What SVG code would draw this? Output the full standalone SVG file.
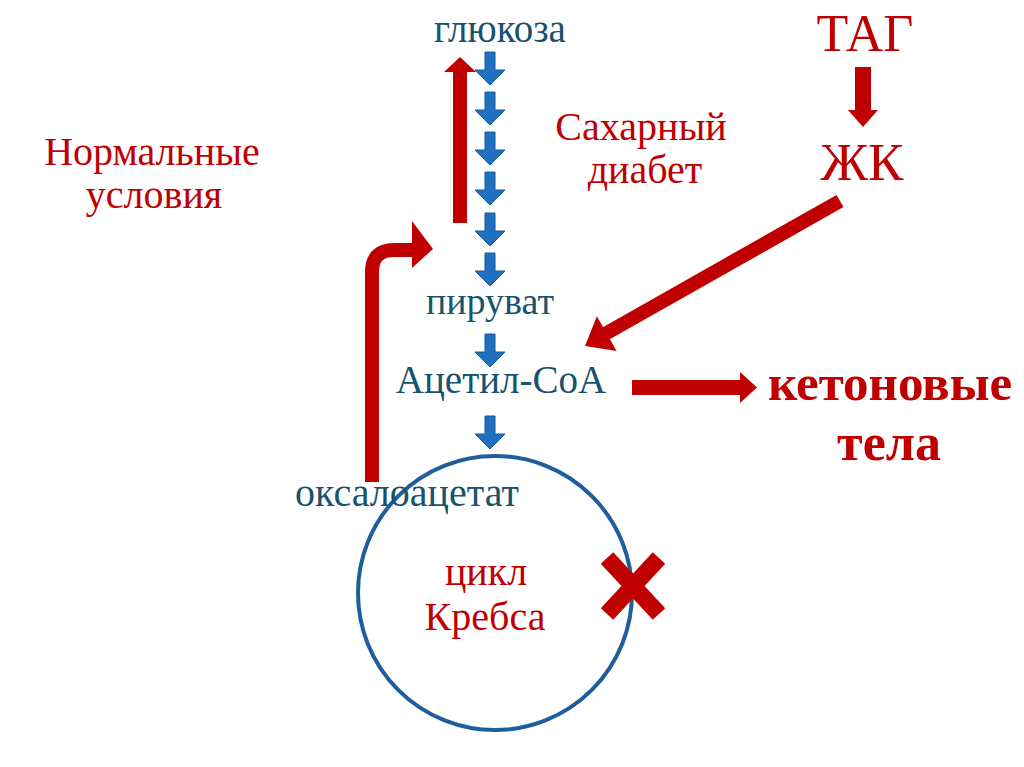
<svg xmlns="http://www.w3.org/2000/svg" width="1024" height="767" viewBox="0 0 1024 767">
<defs>
<style>
.t{font-family:"Liberation Serif","Times New Roman",serif;text-anchor:middle}
.teal{fill:#17536d}
.red{fill:#c00000}
.b{fill:#1f70c1;stroke:#17599b;stroke-width:1}
.rs{stroke:#c00000;fill:none}
.rf{fill:#c00000}
</style>
<path id="ba" d="M-5,0 H5 V18 H15 L0,33 L-15,18 H-5 Z"/>
</defs>
<rect width="1024" height="767" fill="#fff"/>
<g id="connectors">
<use href="#ba" class="b" x="490" y="52"/>
<use href="#ba" class="b" x="490" y="92"/>
<use href="#ba" class="b" x="490" y="132"/>
<use href="#ba" class="b" x="490" y="172"/>
<use href="#ba" class="b" x="490" y="213"/>
<use href="#ba" class="b" x="490" y="253"/>
<use href="#ba" class="b" x="490" y="334"/>
<use href="#ba" class="b" x="490" y="416"/>
<line class="rs" x1="460" y1="223" x2="460" y2="70" stroke-width="14"/>
<polygon class="rf" points="444,72 460,57 476,72"/>
<path class="rs" d="M372,482 V272 Q372,250 394,250 H414" stroke-width="14"/>
<polygon class="rf" points="412,221 433,249 412,268"/>
<rect class="rf" x="855" y="67" width="16" height="44"/>
<polygon class="rf" points="848,110 878,110 863,127"/>
<line class="rs" x1="840" y1="201" x2="605" y2="334" stroke-width="14"/>
<polygon class="rf" points="585,346 616.6,351 596.9,316.2"/>
<rect class="rf" x="632" y="380" width="110" height="15"/>
<polygon class="rf" points="740,372 757,387.5 740,403"/>
</g>
<g id="krebs">
<circle cx="495" cy="593" r="137" fill="none" stroke="#1f5d9e" stroke-width="4"/>
<text class="t red" x="486" y="585" font-size="40">цикл</text>
<text class="t red" x="485" y="630" font-size="40">Кребса</text>
</g>
<g id="block">
<path d="M607,558 L659,614 M659,558 L607,614" stroke="#c00000" stroke-width="17"/>
</g>
<g id="glucose"><text class="t teal" x="500" y="42" font-size="39">глюкоза</text></g>
<g id="pyruvate"><text class="t teal" x="490" y="314" font-size="38">пируват</text></g>
<g id="acetyl"><text class="t teal" x="501" y="393" font-size="39">Ацетил-CoA</text></g>
<g id="oxaloacetate"><text class="t teal" x="407" y="506" font-size="40">оксалоацетат</text></g>
<g id="diabetes"><text class="t red" x="641" y="140" font-size="40">Сахарный</text><text class="t red" x="645" y="183" font-size="40">диабет</text></g>
<g id="normal"><text class="t red" x="152" y="165" font-size="40">Нормальные</text><text class="t red" x="154" y="208" font-size="40">условия</text></g>
<g id="tag"><text class="t red" x="865" y="51" font-size="52">ТАГ</text></g>
<g id="fa"><text class="t red" x="862" y="180" font-size="53">ЖК</text></g>
<g id="ketone"><text class="t red" x="890" y="400" font-size="51" font-weight="bold">кетоновые</text><text class="t red" x="889" y="460" font-size="52" font-weight="bold">тела</text></g>
</svg>
